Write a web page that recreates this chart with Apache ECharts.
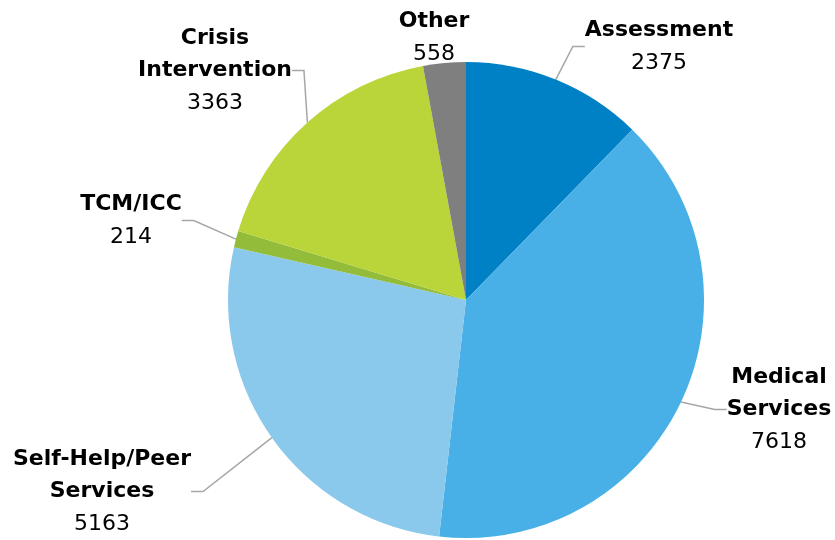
<!DOCTYPE html>
<html>
<head>
<meta charset="utf-8">
<script src="https://cdn.jsdelivr.net/npm/echarts@6/dist/echarts.min.js"></script>
<style>
  html, body { margin: 0; padding: 0; background: #fff; }
  #chart { width: 835px; height: 540px; }
</style>
</head>
<body>
<div id="chart"></div>
<script>
// slices, clockwise from 12 o'clock
const names = ['Assessment', 'Medical\nServices', 'Self-Help/Peer\nServices', 'TCM/ICC', 'Crisis\nIntervention', 'Other']
const values = [2375, 7618, 5163, 214, 3363, 558]
const colors = ['#0081C6', '#48B0E6', '#8AC8EC', '#92BC3A', '#BAD53A', '#7F7F7F']

// where each label block sits (top-centre), hand placed like the original
const labelSpots = [[659, 14], [779, 361], [102, 443], [131, 188], [215, 22], [434, 5]]

const chart = echarts.init(document.getElementById('chart'))

chart.setOption({
  animation: false,
  series: [{
    type: 'pie',
    center: [466, 300],
    radius: 238,
    startAngle: 90,
    clockwise: true,
    data: names.map((n, i) => ({
      name: n,
      value: values[i],
      itemStyle: { color: colors[i] },
      labelLine: { show: i !== 5 }
    })),
    label: {
      show: true,
      formatter: '{n|{b}}\n{v|{c}}',
      align: 'center',
      rich: {
        n: { fontFamily: 'DejaVu Sans', fontWeight: 'bold', fontSize: 22, lineHeight: 32, color: '#000', align: 'center' },
        v: { fontFamily: 'DejaVu Sans', fontSize: 22, lineHeight: 34, color: '#000', align: 'center' }
      }
    },
    labelLine: {
      show: true,
      lineStyle: { color: '#A6A6A6', width: 1.5 },
      length: 10,
      length2: 12
    },
    labelLayout: params => {
      const p = labelSpots[params.dataIndex]
      return { x: p[0], y: p[1], align: 'center', verticalAlign: 'top' }
    }
  }]
})
</script>
</body>
</html>
